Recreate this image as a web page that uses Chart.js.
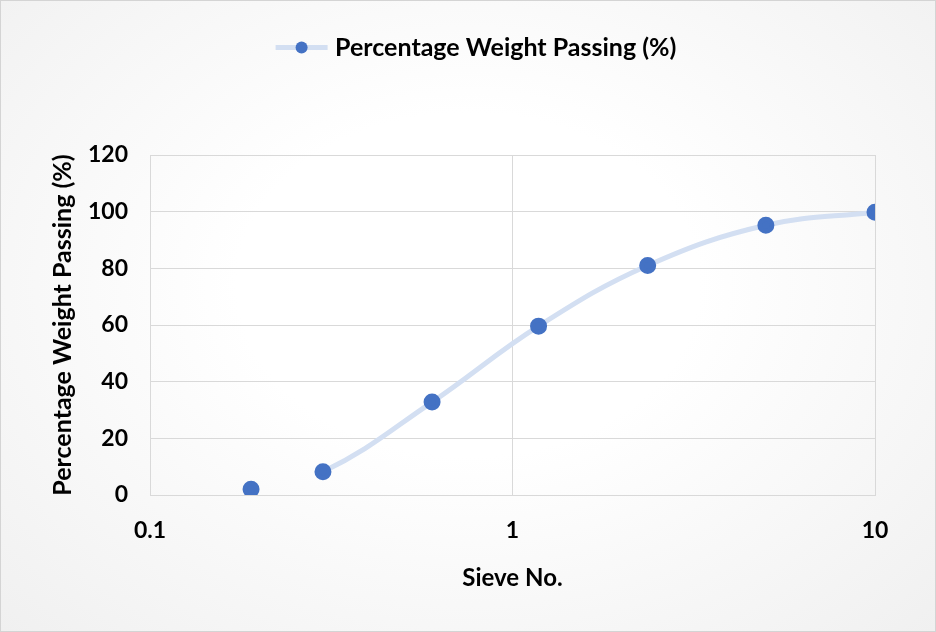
<!DOCTYPE html>
<html>
<head>
<meta charset="utf-8">
<script src="https://cdn.jsdelivr.net/npm/chart.js@4/dist/chart.umd.min.js"></script>
<style>
  html, body { margin: 0; padding: 0; background: #ffffff; }
  #wrap { width: 936px; height: 632px; position: relative; box-sizing: border-box;
          border: 1px solid #d4d4d4;
          background: radial-gradient(ellipse at 50% 45%, #ffffff 35%, #f0f0f0 100%); }
  canvas { display: block; }
</style>
</head>
<body>
<div id="wrap"><canvas id="sieveChart" width="934" height="630"></canvas></div>
<script>
// sieve sizes (mm) and percent passing
var sieveSizes = [0.19, 0.3, 0.6, 1.18, 2.36, 5, 10];
var percentPassing = [2, 8.2, 32.8, 59.6, 81, 95.2, 99.8];
var yTicks = [0, 20, 40, 60, 80, 100, 120];
var xTicks = [0.1, 1, 10];

var lineColor = "#d3dff2";
var pointColor = "#4472c4";
var fontFamily = "Lato, 'Open Sans', sans-serif";
var legendBox = 80;

const points = sieveSizes.map((x, i) => ({ x: x, y: percentPassing[i] }));

// draws the short line + marker in the legend, like the spreadsheet legend
const legendLine = {
    id: "legendLine",
    beforeInit(chart) {
        const fit = chart.legend.fit;
        chart.legend.fit = function () {
            fit.bind(chart.legend)();
            this.height = 130;
        };
    },
    afterDraw(chart) {
        const box = chart.legend.legendHitBoxes[0];
        if (!box) return;
        const ctx = chart.ctx;
        const cy = box.top + box.height / 2;
        const cx = box.left + legendBox - 21;
        ctx.save();
        ctx.strokeStyle = lineColor;
        ctx.lineWidth = 5;
        ctx.beginPath();
        ctx.moveTo(cx - 26, cy);
        ctx.lineTo(cx + 26, cy);
        ctx.stroke();
        ctx.fillStyle = pointColor;
        ctx.beginPath();
        ctx.arc(cx, cy, 6, 0, Math.PI * 2);
        ctx.fill();
        ctx.restore();
    }
};

const data = {
    datasets: [
        {
            label: "Percentage Weight Passing (%)",
            data: points,
            borderColor: lineColor,
            backgroundColor: pointColor,
            pointBackgroundColor: pointColor,
            pointBorderColor: pointColor,
            pointRadius: 6,
            borderWidth: 5,
            tension: 0.4,
            segment: {
                borderColor: ctx => ctx.p0DataIndex === 0 ? "transparent" : lineColor
            }
        }
    ]
};

const config = {
    type: "line",
    data: data,
    plugins: [legendLine],
    options: {
        responsive: false,
        animation: false,
        layout: { padding: { top: 24, right: 60, left: 43, bottom: 34 } },
        plugins: {
            tooltip: { enabled: false },
            legend: {
                position: "top",
                labels: {
                    color: "#000",
                    font: { family: fontFamily, size: 25, weight: "bold" },
                    boxWidth: legendBox,
                    boxHeight: 20,
                    padding: 10,
                    generateLabels: chart => [{
                        text: chart.data.datasets[0].label,
                        fillStyle: "transparent",
                        strokeStyle: "transparent",
                        lineWidth: 0
                    }]
                }
            }
        },
        scales: {
            x: {
                type: "logarithmic",
                min: 0.1,
                max: 10,
                afterBuildTicks: axis => { axis.ticks = xTicks.map(v => ({ value: v })); },
                afterFit: axis => { axis.height = 102; },
                grid: { color: "#d9d9d9", lineWidth: 1, drawTicks: false },
                border: { color: "#d9d9d9" },
                ticks: {
                    color: "#000",
                    padding: 22,
                    maxRotation: 0,
                    font: { family: fontFamily, size: 23, weight: "bold" },
                    callback: v => String(v)
                },
                title: {
                    display: true,
                    text: "Sieve No.",
                    color: "#000",
                    padding: { top: 10 },
                    font: { family: fontFamily, size: 24, weight: "bold" }
                }
            },
            y: {
                min: 0,
                max: 120,
                afterBuildTicks: axis => { axis.ticks = yTicks.map(v => ({ value: v })); },
                afterFit: axis => { axis.width = 106; },
                grid: { color: "#d9d9d9", lineWidth: 1, drawTicks: false },
                border: { color: "#d9d9d9" },
                ticks: {
                    color: "#000",
                    padding: 22,
                    font: { family: fontFamily, size: 23, weight: "bold" }
                },
                title: {
                    display: true,
                    text: "Percentage Weight Passing (%)",
                    color: "#000",
                    padding: { bottom: 6 },
                    font: { family: fontFamily, size: 25, weight: "bold" }
                }
            }
        }
    }
};

const sieveChart = new Chart(document.getElementById("sieveChart"), config);
</script>
</body>
</html>
